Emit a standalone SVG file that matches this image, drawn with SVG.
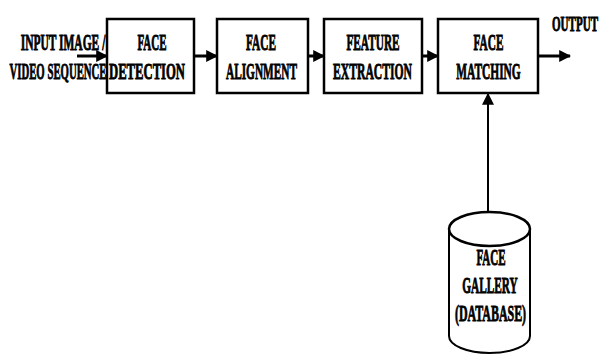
<svg xmlns="http://www.w3.org/2000/svg" width="600" height="354" viewBox="0 0 600 354">
<style>
.box{fill:#fff;stroke:#000;stroke-width:2.5}
.t{font-family:"Liberation Serif","Times New Roman",serif;font-weight:bold;font-size:24px;fill:#000;stroke:#000;stroke-width:0.9;text-anchor:middle}
.c{stroke:#000;stroke-width:3;fill:none}
.cv{stroke:#000;stroke-width:2;fill:none}
</style>
<defs>
<marker id="ah" viewBox="0 0 10 10" refX="9" refY="5" markerWidth="4" markerHeight="4.5" orient="auto" markerUnits="strokeWidth">
<path d="M0,0 L10,5 L0,10 z" fill="#000"/>
</marker>
<marker id="ahv" viewBox="0 0 10 10" refX="9" refY="5" markerWidth="6" markerHeight="6" orient="auto" markerUnits="strokeWidth">
<path d="M0,0 L10,5 L0,10 z" fill="#000"/>
</marker>
</defs>
<rect width="600" height="354" fill="#fff"/>
<g id="input">
<text class="t" transform="translate(63,50) scale(0.479,1)">INPUT IMAGE /</text>
<text class="t" transform="translate(58,79) scale(0.448,1)">VIDEO SEQUENCE</text>
</g>
<g id="detection">
<rect class="box" x="107" y="19" width="87" height="74"/>
<text class="t" transform="translate(152,50) scale(0.459,1)">FACE</text>
<text class="t" transform="translate(147,79) scale(0.528,1)">DETECTION</text>
</g>
<g id="alignment">
<rect class="box" x="217" y="19" width="91" height="74"/>
<text class="t" transform="translate(261,50) scale(0.47,1)">FACE</text>
<text class="t" transform="translate(261.5,79) scale(0.471,1)">ALIGNMENT</text>
</g>
<g id="extraction">
<rect class="box" x="324" y="19" width="98" height="74"/>
<text class="t" transform="translate(373,50) scale(0.471,1)">FEATURE</text>
<text class="t" transform="translate(372.5,79) scale(0.486,1)">EXTRACTION</text>
</g>
<g id="matching">
<rect class="box" x="438" y="19" width="100" height="74"/>
<text class="t" transform="translate(488.5,50) scale(0.47,1)">FACE</text>
<text class="t" transform="translate(488.5,79) scale(0.475,1)">MATCHING</text>
</g>
<g id="output">
<text class="t" transform="translate(575,31) scale(0.526,1)" style="font-size:21px">OUTPUT</text>
</g>
<g id="gallery">
<path d="M449,229 L449,336 A40.5,17 0 0 0 530,336 L530,229" fill="#fff" stroke="#000" stroke-width="2"/>
<ellipse cx="489.5" cy="229" rx="40.5" ry="17" fill="#fff" stroke="#000" stroke-width="2.5"/>
<text class="t" transform="translate(491,265) scale(0.46,1)">FACE</text>
<text class="t" transform="translate(490,293) scale(0.472,1)">GALLERY</text>
<text class="t" transform="translate(490.5,321) scale(0.498,1)">(DATABASE)</text>
</g>
<g id="connectors">
<line class="c" x1="77" y1="56" x2="107" y2="56" marker-end="url(#ah)"/>
<line class="c" x1="194" y1="56" x2="217" y2="56" marker-end="url(#ah)"/>
<line class="c" x1="308" y1="56" x2="324" y2="56" marker-end="url(#ah)"/>
<line class="c" x1="422" y1="56" x2="438" y2="56" marker-end="url(#ah)"/>
<line class="c" x1="538" y1="56" x2="570" y2="56" marker-end="url(#ah)"/>
<line class="cv" x1="488" y1="212" x2="488" y2="94" marker-end="url(#ahv)"/>
</g>
</svg>
